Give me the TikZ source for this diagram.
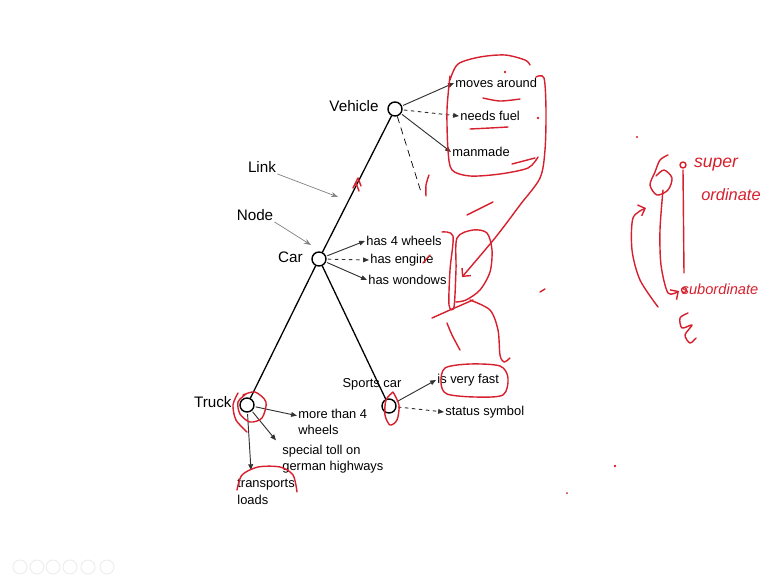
\documentclass[tikz,border=0pt]{standalone}
\usepackage{fontspec}
\setmainfont{Liberation Sans}
\definecolor{inkred}{RGB}{214,32,45}
\definecolor{linkgray}{RGB}{50,50,50}
\usetikzlibrary{arrows.meta,positioning,calc}

\begin{document}
\begin{tikzpicture}[x=0.03cm, y=-0.03cm,
  every node/.style={font=\fontsize{11}{12}\selectfont, inner sep=1pt},
  concept/.style={circle, draw, line width=1.2pt, minimum size=0.42cm, inner sep=0pt, fill=white},
  namelbl/.style={font=\fontsize{13}{14}\selectfont},
  prop/.style={anchor=west, align=left, font=\fontsize{11}{14}\selectfont},
  isa/.style={line width=1.1pt},
  has/.style={linkgray, thick, -{Triangle[length=5pt,width=4pt]}, shorten <=1pt},
  pointer/.style={gray, semithick, -{Stealth[length=6pt]}},
  ink/.style={inkred, line width=1.2pt, line cap=round, line join=round},
  inktext/.style={inkred, font=\fontsize{14}{16}\selectfont\itshape}]
\useasboundingbox (0,0) rectangle (770,579);

% concepts
\node[concept] (vehicle) at (395,109) {};
\node[concept] (car) at (319,259) {};
\node[concept] (truck) at (247,405) {};
\node[concept] (sports) at (389,406) {};
\node[namelbl, anchor=east] (vehiclelbl) at (380,106) {Vehicle};
\node[namelbl, anchor=east] (carlbl) at (304,257) {Car};
\node[namelbl, anchor=east] (trucklbl) at (233,402) {Truck};
\node (sportslbl) at (372,384) {Sports car};

% is-a links
\coordinate (dashend) at (421,192);
\draw[isa] (vehicle) -- (car);
\draw[isa] (car) -- (truck);
\draw[isa] (car) -- (sports);
\draw[semithick, dash pattern=on 6pt off 4pt] (vehicle) -- (dashend);

% properties
\node[prop] (moves) at (454,83) {moves around};
\node[prop] (fuel) at (459,116) {needs fuel};
\node[prop] (manmade) at (451,152) {manmade};
\node[prop] (wheels) at (365,241) {has 4 wheels};
\node[prop] (engine) at (369,260) {has engine};
\node[prop] (windows) at (367,280) {has wondows};
\node[prop] (more) at (297,422) {more than 4\\wheels};
\node[prop] (toll) at (281,459) {special toll on\\german highways};
\node[prop] (loads) at (236,492) {transports\\loads};
\node[prop] (fast) at (436,380) {is very fast};
\node[prop] (status) at (444,412) {status symbol};

\draw[has] (vehicle) -- (moves.west);
\draw[has, dashed] (vehicle) -- (fuel.west);
\draw[has] (vehicle) -- (manmade.west);
\draw[has] (car) -- (wheels.west);
\draw[has, dashed] (car) -- (engine.west);
\draw[has] (car) -- (windows.west);
\draw[has] (truck) -- ($(more.north west)+(0,8)$);
\draw[has] (truck) -- ($(toll.north west)+(-5,-3)$);
\draw[has] (truck) -- ($(truck |- loads.north)+(4,-8)$);
\draw[has] (sports) -- (fast.west);
\draw[has, dashed] (sports) -- (status.west);

% Link / Node pointers
\node[namelbl] (linklbl) at (262,167) {Link};
\node[namelbl] (nodelbl) at (255,215) {Node};
\coordinate (linktip) at (338,197);
\coordinate (nodetip) at (311,245);
\draw[pointer] (linklbl.south east) -- (linktip);
\draw[pointer] (nodelbl.south east) -- (nodetip);

% red ink: vehicle properties
\draw[ink] plot[smooth] coordinates {(450,80) (458,64) (480,57) (505,55) (525,60) (530,65)};
\draw[ink] plot[smooth] coordinates {(450,76) (447,110) (448,150) (452,170) (470,176) (500,174) (528,168) (538,157)};
\draw[ink, -{Straight Barb[length=5pt]}] plot[smooth] coordinates {(536,77) (544,78) (546,110) (545,150) (540,178) (520,205) (495,238) (462,277)};
\draw[ink] (512,164) -- (535,158);
\draw[ink] plot[smooth] coordinates {(483,98) (500,101) (520,99)};
\draw[ink] plot[smooth] coordinates {(470,129) (490,128) (508,127)};
\fill[inkred] (505,72) circle (1.3) (538,118) circle (1.3);
\draw[ink] plot[smooth] coordinates {(429,175) (426,185) (426,196)};
\draw[ink] (353,188) -- (358,178) -- (361,186) (356,183) -- (359,191);

% red ink: car properties
\draw[ink] (423,263) -- (430,255);
\draw[ink] (467,215) -- (493,202);
\draw[ink] plot[smooth] coordinates {(442,232) (453,236) (450,270) (449,305) (454,307) (456,270) (457,238) (473,230) (487,233) (492,250) (490,272) (480,290) (466,300) (456,302)};
\draw[ink] plot[smooth] coordinates {(432,318) (450,310) (473,300)};
\draw[ink] plot[smooth] coordinates {(447,323) (452,335) (460,350)};
\draw[ink] plot[smooth] coordinates {(470,300) (490,310) (498,330) (500,355) (504,362) (510,358)};
\draw[ink] (540,292) -- (545,289);

% red ink: lower concepts
\draw[ink] plot[smooth cycle] coordinates {(441,383) (445,368) (470,364) (500,366) (508,378) (503,395) (475,397) (447,394)};
\draw[ink] plot[smooth] coordinates {(243,395) (255,392) (266,402) (262,418) (250,422) (240,414) (238,402) (246,394)};
\draw[ink] plot[smooth] coordinates {(238,393) (233,405) (236,420) (247,432)};
\draw[ink] plot[smooth] coordinates {(237,490) (242,475) (258,467) (280,467) (293,475) (297,492)};
\draw[ink] plot[smooth] coordinates {(393,392) (399,405) (397,420) (390,425) (385,415) (386,400) (393,392)};
\fill[inkred] (615,466) circle (1.3) (567,493) circle (1);

% red ink: super / subordinate sketch
\node[inktext, font=\fontsize{15}{16}\selectfont\itshape] (superlbl) at (716,165) {super};
\node[inktext] (ordlbl) at (731,195) {ordinate};
\node[inktext, font=\fontsize{12.5}{14}\selectfont\itshape] (sublbl) at (720,289) {subordinate};
\fill[inkred] (637,137) circle (1.2);
\draw[ink] plot[smooth] coordinates {(668,155) (660,160) (655,172) (650,185) (657,195) (668,190) (672,178) (664,170) (656,176)};
\draw[ink] (683,165) circle (3);
\draw[ink] (683,170) -- (684,273);
\draw[ink] (684,290) circle (2.5);
\draw[ink, -{Straight Barb[length=5pt]}] plot[smooth] coordinates {(663,190) (660,230) (661,265) (668,293) (679,291)};
\draw[ink, -{Straight Barb[length=5pt]}] plot[smooth] coordinates {(658,307) (640,280) (632,250) (633,218) (646,208)};
\draw[ink] plot[smooth] coordinates {(688,313) (680,318) (682,328) (692,325) (685,335) (690,343) (696,338)};

% player controls
\foreach \cx in {20,37,53,70,88,107}
  \draw[gray!15, thick] (\cx,567) circle (7);
\end{tikzpicture}
\end{document}
